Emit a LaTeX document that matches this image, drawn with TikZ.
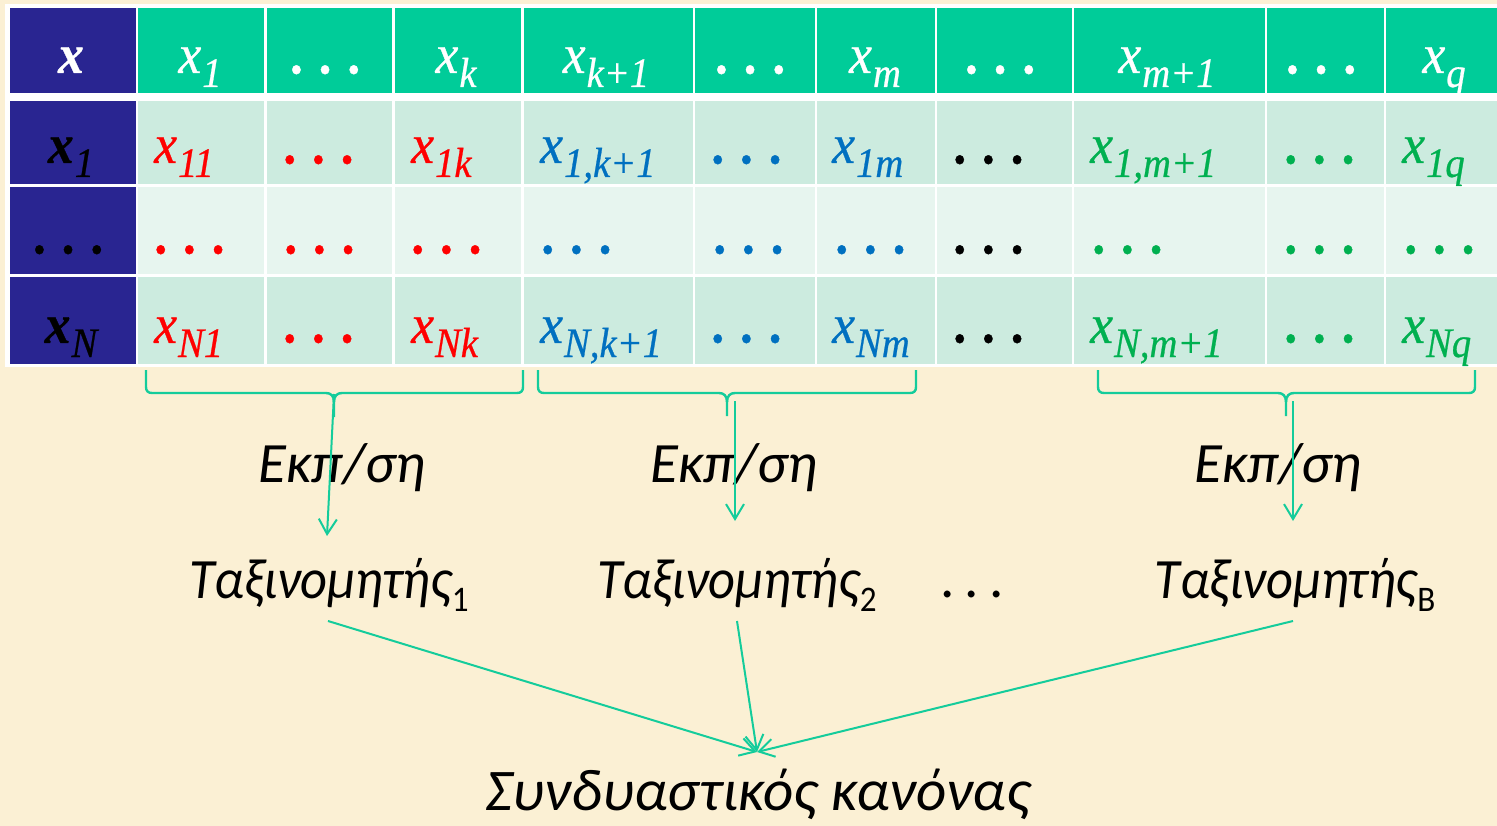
\documentclass[tikz,border=0pt]{standalone}
\usepackage{fontspec}
\setmainfont[FakeStretch=0.92,FakeBold=0.6]{Liberation Serif}
\newfontfamily\calib{Carlito}
\newfontfamily\calibn[FakeStretch=0.92]{Carlito}
\usetikzlibrary{arrows.meta}
\definecolor{bgc}{RGB}{251,240,212}
\definecolor{dblue}{RGB}{41,37,145}
\definecolor{hgreen}{RGB}{0,204,153}
\definecolor{lgA}{RGB}{204,235,223}
\definecolor{lgB}{RGB}{231,245,239}
\definecolor{cred}{RGB}{255,0,0}
\definecolor{cblue}{RGB}{0,112,192}
\definecolor{cgreen}{RGB}{0,176,80}
\definecolor{gline}{RGB}{20,204,155}
\newcommand\tabfont{\fontsize{56}{60}\selectfont\itshape}
\newcommand\xs[1]{x\kern1pt\raisebox{-14pt}{\fontsize{42}{44}\selectfont #1}}
\newcommand\xb[1]{\textbf{x}\kern1pt\raisebox{-14pt}{\fontsize{42}{44}\selectfont #1}}
\newcommand\dts{{\bfseries .\kern15.8pt.\kern15.8pt.}}
\newcommand\tsub[1]{\raisebox{-13pt}{\upshape\fontsize{36}{36}\selectfont #1}}
\begin{document}
\begin{tikzpicture}[x=1pt,y=-1pt,line join=round,
  hd/.style={inner sep=0pt,anchor=base,font=\tabfont,text=white},
  rl/.style={inner sep=0pt,anchor=base,font=\tabfont,text=black},
  dc/.style={inner sep=0pt,anchor=base west,font=\tabfont},
  lbl/.style={inner sep=0pt,anchor=base,text=black},
  brace/.style={draw=gline,line width=2.4pt},
  garrow/.style={draw=gline,line width=2pt,-{Straight Barb[length=15pt,width=18pt]}}]
\useasboundingbox (0,0) rectangle (1497,826);
\fill[bgc] (0,0) rectangle (1497,826);
\fill[white] (5,4) rectangle (1497,367);
% cells
\fill[dblue] (10,8) rectangle (136,93);
\fill[dblue] (10,101) rectangle (136,184);
\fill[dblue] (10,187) rectangle (136,274);
\fill[dblue] (10,277) rectangle (136,364);
\foreach \l/\r in {138/264,267/392,395/521,524/693,695/815,817/935,937/1072,1074/1265,1267/1384,1386/1497}{
  \fill[hgreen] (\l,8) rectangle (\r,93);
  \fill[lgA] (\l,101) rectangle (\r,184);
  \fill[lgB] (\l,187) rectangle (\r,274);
  \fill[lgA] (\l,277) rectangle (\r,364);
}
% header
\node[hd] (h0) at (71,73) {\textbf{x}};
\node[hd] (h1) at (200,73) {\xs{1}};
\node[hd] (h2) at (327,73.5) {\dts};
\node[hd] (h3) at (456,73) {\xs{k}};
\node[hd] (h4) at (606,73) {\xs{k+1}};
\node[hd] (h5) at (752,73.5) {\dts};
\node[hd] (h6) at (875,73) {\xs{m}};
\node[hd] (h7) at (1002,73.5) {\dts};
\node[hd] (h8) at (1167,73) {\xs{m+1}};
\node[hd] (h9) at (1323,73.5) {\dts};
\node[hd] (h10) at (1444,73) {\xs{q}};
% row labels
\node[rl] (r1) at (71,163) {\xb{1}};
\node[rl] (r2) at (70,253.5) {\dts};
\node[rl] (r3) at (71,343) {\xb{N}};
% row 1
\node[dc,text=cred] (a1) at (154,163) {\xs{11}};
\node[dc,text=cred] (a2) at (285,163.5) {\dts};
\node[dc,text=cred] (a3) at (411,163) {\xs{1k}};
\node[dc,text=cblue] (a4) at (540,163) {\xs{1,k+1}};
\node[dc,text=cblue] (a5) at (713,163.5) {\dts};
\node[dc,text=cblue] (a6) at (832,163) {\xs{1m}};
\node[dc,text=black] (a7) at (955,163.5) {\dts};
\node[dc,text=cgreen] (a8) at (1090,163) {\xs{1,m+1}};
\node[dc,text=cgreen] (a9) at (1286,163.5) {\dts};
\node[dc,text=cgreen] (a10) at (1402,163) {\xs{1q}};
% row 2
\node[dc,text=cred] (b1) at (156,253.5) {\dts};
\node[dc,text=cred] (b2) at (286,253.5) {\dts};
\node[dc,text=cred] (b3) at (413,253.5) {\dts};
\node[dc,text=cblue] (b4) at (543,253.5) {\dts};
\node[dc,text=cblue] (b5) at (715,253.5) {\dts};
\node[dc,text=cblue] (b6) at (837,253.5) {\dts};
\node[dc,text=black] (b7) at (955,253.5) {\dts};
\node[dc,text=cgreen] (b8) at (1094,253.5) {\dts};
\node[dc,text=cgreen] (b9) at (1286,253.5) {\dts};
\node[dc,text=cgreen] (b10) at (1406,253.5) {\dts};
% row 3
\node[dc,text=cred] (c1) at (154,343) {\xs{N1}};
\node[dc,text=cred] (c2) at (285,342.5) {\dts};
\node[dc,text=cred] (c3) at (411,343) {\xs{Nk}};
\node[dc,text=cblue] (c4) at (540,343) {\xs{N,k+1}};
\node[dc,text=cblue] (c5) at (713,342.5) {\dts};
\node[dc,text=cblue] (c6) at (832,343) {\xs{Nm}};
\node[dc,text=black] (c7) at (955,342.5) {\dts};
\node[dc,text=cgreen] (c8) at (1090,343) {\xs{N,m+1}};
\node[dc,text=cgreen] (c9) at (1286,342.5) {\dts};
\node[dc,text=cgreen] (c10) at (1402,343) {\xs{Nq}};
% braces
\draw[brace] (146,370) -- (146,387) .. controls (146,391) and (148,393) .. (152,393) -- (326,393) .. controls (331,393) and (334,396) .. (334,402) -- (334,417);
\draw[brace] (523,370) -- (523,387) .. controls (523,391) and (521,393) .. (517,393) -- (342,393) .. controls (337,393) and (334,396) .. (334,402);
\draw[brace] (538,370) -- (538,387) .. controls (538,391) and (540,393) .. (544,393) -- (719,393) .. controls (724,393) and (727,396) .. (727,402) -- (727,416);
\draw[brace] (916,370) -- (916,387) .. controls (916,391) and (914,393) .. (910,393) -- (735,393) .. controls (730,393) and (727,396) .. (727,402);
\draw[brace] (1098,370) -- (1098,387) .. controls (1098,391) and (1100,393) .. (1104,393) -- (1278,393) .. controls (1283,393) and (1286,396) .. (1286,402) -- (1286,416);
\draw[brace] (1475,370) -- (1475,387) .. controls (1475,391) and (1473,393) .. (1469,393) -- (1294,393) .. controls (1289,393) and (1286,396) .. (1286,402);
% labels
\node[lbl,font=\calib\itshape\fontsize{57}{60}\selectfont] (e1) at (342,482) {Εκπ/ση};
\node[lbl,font=\calib\itshape\fontsize{57}{60}\selectfont] (e2) at (734,482) {Εκπ/ση};
\node[lbl,font=\calib\itshape\fontsize{57}{60}\selectfont] (e3) at (1278,482) {Εκπ/ση};
\node[lbl,font=\calibn\itshape\fontsize{57}{60}\selectfont] (t1) at (329,598) {Ταξινομητής\tsub{1}};
\node[lbl,font=\calibn\itshape\fontsize{57}{60}\selectfont] (t2) at (737,598) {Ταξινομητής\tsub{2}};
\node[lbl,font=\calib\upshape\fontsize{57}{60}\selectfont] (td) at (972,597) {.\kern10pt.\kern10pt.};
\node[lbl,font=\calibn\itshape\fontsize{57}{60}\selectfont] (t3) at (1295,598) {Ταξινομητής\tsub{B}};
\node[lbl,font=\calib\itshape\fontsize{59}{62}\selectfont] (comb) at (758,810) {Συνδυαστικός κανόνας};
% arrow coordinates
\coordinate (s1) at (334,394);
\coordinate (d1) at (327,536);
\coordinate (s2) at (735,401);
\coordinate (d2) at (735,521);
\coordinate (s3) at (1293,401);
\coordinate (d3) at (1293,521);
\coordinate (o1) at (328,621);
\coordinate (o2) at (737,621);
\coordinate (o3) at (1293,621);
\coordinate (conv) at (757,752);
\draw[garrow] (s1) -- (d1);
\draw[garrow] (s2) -- (d2);
\draw[garrow] (s3) -- (d3);
\draw[garrow] (o1) -- (conv);
\draw[garrow] (o2) -- (conv);
\draw[garrow] (o3) -- (conv);
\end{tikzpicture}
\end{document}
